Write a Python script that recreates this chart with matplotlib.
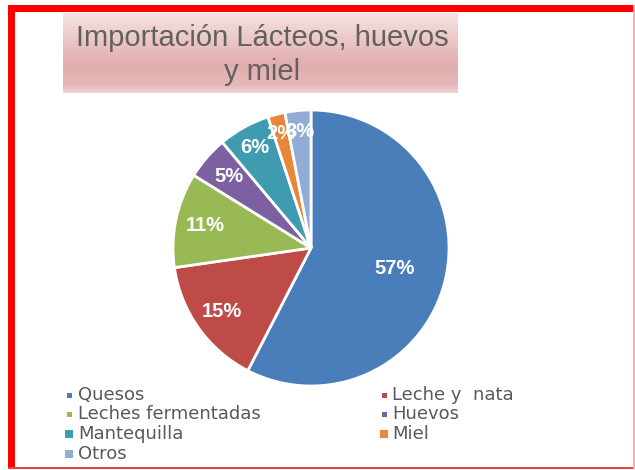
import numpy as np
import matplotlib
matplotlib.use("Agg")
import matplotlib.pyplot as plt
from matplotlib.patches import Rectangle
from matplotlib.colors import LinearSegmentedColormap

# Import shares (%) by product group
categories = ["Quesos", "Leche y  nata", "Leches fermentadas", "Huevos",
              "Mantequilla", "Miel", "Otros"]
values = [57, 15, 11, 5, 6, 2, 3]
colors = ["#4a7ebb", "#be4b48", "#98b954", "#7d60a0", "#3e9bb0", "#e8873a", "#91add6"]
# radial position of each percentage label, as a fraction of the radius
label_radius = [0.62, 0.79, 0.78, 0.79, 0.83, 0.86, 0.85]
title = "Importación Lácteos, huevos\ny miel"

W, H = 635, 470
fig = plt.figure(figsize=(W / 100, H / 100), dpi=100)
fig.patch.set_facecolor("white")

def fx(px):
    return px / W

def fy(py):
    return 1 - py / H

# Pie
cx, cy, r = 311, 248, 138
ax = fig.add_axes([fx(cx - r), fy(cy + r), 2 * r / W, 2 * r / H])
wedges, _ = ax.pie(values, colors=colors, startangle=90, counterclock=False,
                   radius=1.0, wedgeprops=dict(edgecolor="white", linewidth=2))
ax.set_xlim(-1, 1)
ax.set_ylim(-1, 1)
ax.set_axis_off()

for w, v, d in zip(wedges, values, label_radius):
    ang = np.deg2rad((w.theta1 + w.theta2) / 2)
    ax.text(d * np.cos(ang), d * np.sin(ang), f"{v}%", color="white",
            fontsize=14.5, fontweight="bold", family="Liberation Sans",
            ha="center", va="center")

# Title box with a vertical pink gradient
tax = fig.add_axes([fx(63), fy(93), fx(458) - fx(63), fy(13) - fy(93)])
grad_cmap = LinearSegmentedColormap.from_list(
    "titlebox", [(0.0, "#f6e2e2"), (0.65, "#e2adad"), (0.9, "#e6b8b8"), (1.0, "#f0d2d2")])
tax.imshow(np.linspace(0, 1, 100).reshape(-1, 1), aspect="auto", cmap=grad_cmap,
           extent=(0, 1, 0, 1), origin="upper")
tax.set_xlim(0, 1)
tax.set_ylim(0, 1)
tax.set_axis_off()
fig.text(fx(262), fy(55), title, ha="center", va="center", fontsize=21,
         family="Liberation Sans", color="#616161", linespacing=1.25)

# Legend (two columns)
col_marker_x = [65, 380]
col_text_x = [78, 392]
row_y = [395, 414, 434, 454]
marker_px = [5, 5, 5, 5, 8, 8, 8]
for i, (lab, col) in enumerate(zip(categories, colors)):
    row, c = divmod(i, 2)
    y = row_y[row]
    s = marker_px[i]
    mx = col_marker_x[c] + (8 - s) / 2
    fig.add_artist(Rectangle((fx(mx), fy(y + s / 2)), s / W, s / H,
                             transform=fig.transFigure, facecolor=col,
                             edgecolor="none"))
    fig.text(fx(col_text_x[c]), fy(y), lab, ha="left", va="center",
             fontsize=13, family="DejaVu Sans", color="#595959")

# Red frame
fig.add_artist(Rectangle((fx(8), fy(12)), fx(634) - fx(8), 7 / H,
                         transform=fig.transFigure, facecolor="#ff0000", edgecolor="none"))
fig.add_artist(Rectangle((fx(8), fy(469)), 7 / W, fy(5) - fy(469),
                         transform=fig.transFigure, facecolor="#ff0000", edgecolor="none"))
fig.add_artist(Rectangle((fx(8), fy(469)), fx(635) - fx(8), 2 / H,
                         transform=fig.transFigure, facecolor="#ee4040", edgecolor="none"))
fig.add_artist(Rectangle((fx(633), fy(469)), 2 / W, fy(5) - fy(469),
                         transform=fig.transFigure, facecolor="#f7b0b0", edgecolor="none"))

fig.savefig("out.png", dpi=100)
